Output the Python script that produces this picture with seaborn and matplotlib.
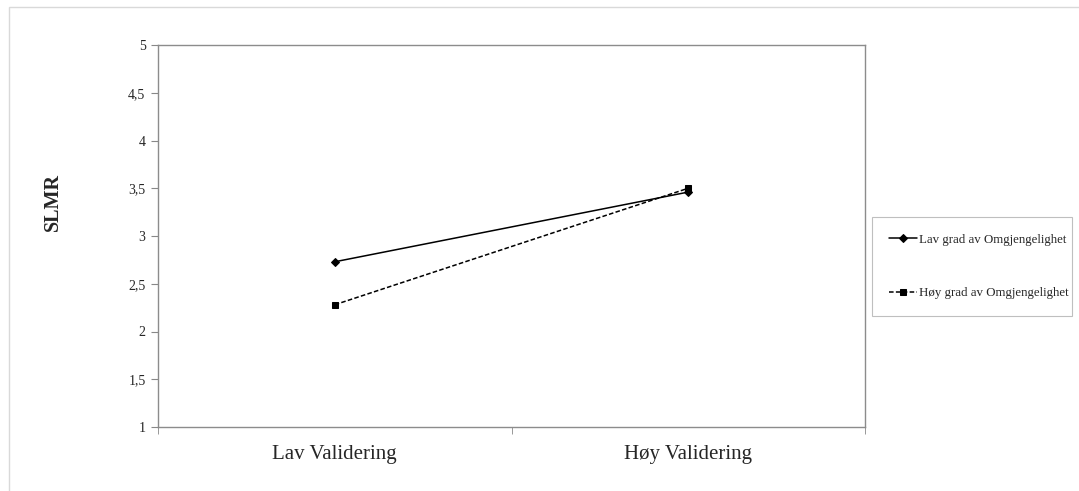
import matplotlib
matplotlib.use("Agg")
import matplotlib.pyplot as plt
import matplotlib.patches as mpatches
import matplotlib.ticker as mtick
import pandas as pd
import seaborn as sns

categories = ["Lav Validering", "Høy Validering"]
series_names = ["Lav grad av Omgjengelighet", "Høy grad av Omgjengelighet"]
lav_omgj = [2.73, 3.46]
hoy_omgj = [2.28, 3.50]
y_ticks = [1, 1.5, 2, 2.5, 3, 3.5, 4, 4.5, 5]

df = pd.DataFrame({
    "validering": categories * 2,
    "pos": [0, 1] * 2,
    "SLMR": lav_omgj + hoy_omgj,
    "gruppe": [series_names[0]] * 2 + [series_names[1]] * 2,
})

sns.set_style("white")
plt.rcParams["font.family"] = ["Liberation Serif", "DejaVu Serif"]

fig = plt.figure(figsize=(10.79, 4.91), dpi=100)
ax = fig.add_axes([158 / 1079, 1 - 427 / 491, 707 / 1079, 382 / 491])

sns.lineplot(data=df, x="pos", y="SLMR", hue="gruppe", style="gruppe",
             hue_order=series_names, style_order=series_names,
             palette=["black", "black"], markers={series_names[0]: "D", series_names[1]: "s"},
             dashes={series_names[0]: "", series_names[1]: (3, 1.5)},
             markersize=5, linewidth=1.1, markeredgecolor="black", ax=ax)
for line in ax.get_lines():
    if line.get_marker() == "D":
        line.set_markersize(4)

ax.set_xlim(-0.5, 1.5)
ax.set_ylim(1, 5)
ax.set_yticks(y_ticks)
ax.yaxis.set_major_formatter(mtick.FuncFormatter(lambda v, _: f"{v:g}".replace(".", ",")))
ax.set_xticks([0, 1])
ax.set_xticklabels(categories, fontsize=15)
ax.xaxis.set_minor_locator(mtick.FixedLocator([-0.5, 0.5, 1.5]))
ax.tick_params(axis="x", which="major", length=0, pad=13)
ax.tick_params(axis="x", which="minor", length=5, color="#888888", direction="out", bottom=True)
ax.tick_params(axis="y", labelsize=10, length=5, color="#888888", direction="out", left=True, pad=4)
ax.set_xlabel("")
ax.set_ylabel("SLMR", fontsize=14.5, fontweight="bold")
ax.yaxis.set_label_coords(-0.134, 0.59)
for sp in ax.spines.values():
    sp.set_color("#8c8c8c")
    sp.set_linewidth(1.0)

leg = ax.legend(loc="center left", bbox_to_anchor=(872 / 1079, 1 - 320 / 491, 200 / 1079, 107 / 491),
                bbox_transform=fig.transFigure, mode="expand", frameon=True, fancybox=False,
                fontsize=9.3, handlelength=2.2, handletextpad=0.15, labelspacing=3.2,
                borderpad=1.3, borderaxespad=0)
leg.get_frame().set_edgecolor("#b0b0b0")
leg.get_frame().set_linewidth(0.8)

# outer chart frame
fig.add_artist(mpatches.Rectangle((9 / 1079, -0.05), 1.1, 1 - 7 / 491 + 0.05,
                                  transform=fig.transFigure, fill=False,
                                  edgecolor="#d9d9d9", linewidth=1.0))

fig.savefig("out.png", dpi=100)
